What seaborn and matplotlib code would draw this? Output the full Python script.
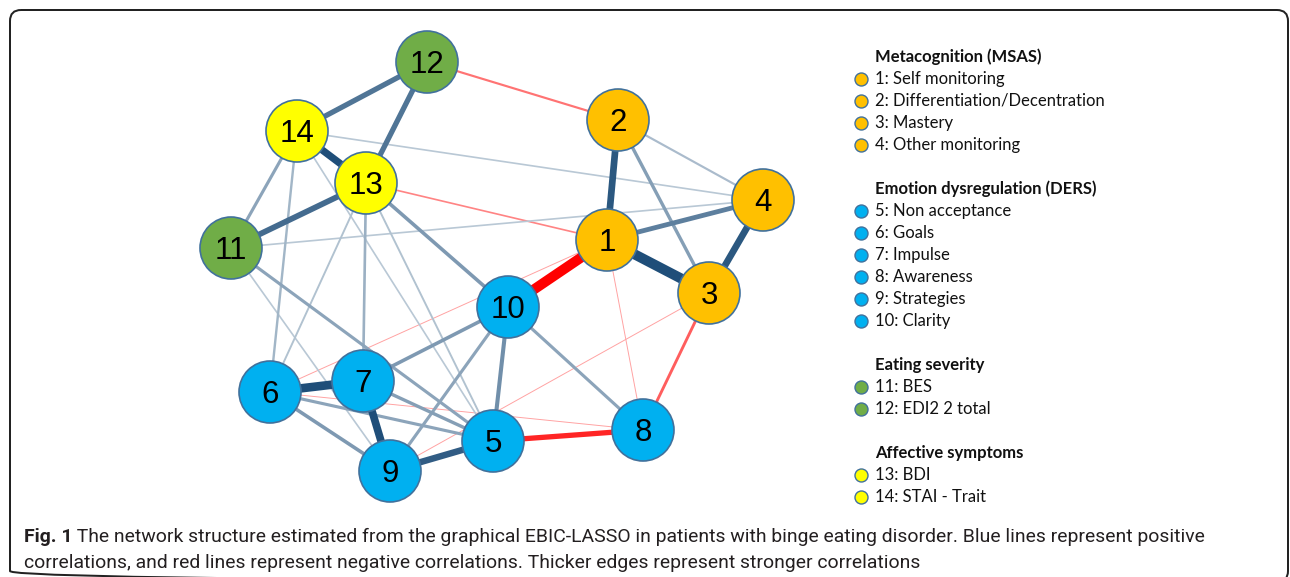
import numpy as np
import pandas as pd
import matplotlib
matplotlib.use("Agg")
import matplotlib.pyplot as plt
from matplotlib.patches import FancyBboxPatch
import seaborn as sns

# node layout (qgraph-style layout, picture units) and grouping
node_ids = list(range(1, 15))
node_x = [607, 618, 709, 763, 493, 270, 363, 643, 390, 508, 231, 427, 366, 297]
node_y = [240, 120, 293, 200, 441, 392, 381, 430, 471, 307, 248, 62, 183, 131]
node_group = [0, 0, 0, 0, 1, 1, 1, 1, 1, 1, 2, 2, 3, 3]

group_titles = ["Metacognition (MSAS)", "Emotion dysregulation (DERS)",
                "Eating severity", "Affective symptoms"]
node_labels = ["Self monitoring", "Differentiation/Decentration", "Mastery",
               "Other monitoring", "Non acceptance", "Goals", "Impulse",
               "Awareness", "Strategies", "Clarity", "BES", "EDI2 2 total",
               "BDI", "STAI - Trait"]

# edges (partial correlations)
edge_from = [1, 1, 6, 7, 13, 1, 3, 5, 12, 12, 11, 1, 5, 5, 7, 10, 6, 9, 8,
             5, 5, 5, 11, 7, 2, 2, 6, 3, 2, 1, 5, 6, 4, 4, 5, 9, 1, 1, 3, 6]
edge_to = [3, 10, 7, 9, 14, 2, 4, 9, 14, 13, 13, 4, 8, 10, 10, 13, 9, 10, 10,
           6, 7, 11, 14, 13, 3, 4, 14, 8, 12, 13, 13, 13, 14, 11, 14, 11, 8,
           6, 9, 8]
edge_w = [0.42, -0.42, 0.36, 0.32, 0.30, 0.28, 0.28, 0.27, 0.22, 0.22, 0.24,
          0.20, -0.22, 0.17, 0.15, 0.15, 0.15, 0.13, 0.13, 0.13, 0.14, 0.13,
          0.13, 0.11, 0.14, 0.09, 0.10, -0.12, -0.09, -0.07, 0.08, 0.08, 0.07,
          0.07, 0.07, 0.07, -0.04, -0.04, -0.04, -0.04]

caption_bold = "Fig. 1"
caption_line1 = (" The network structure estimated from the graphical EBIC-LASSO in "
                 "patients with binge eating disorder. Blue lines represent positive")
caption_line2 = ("correlations, and red lines represent negative correlations. "
                 "Thicker edges represent stronger correlations")

group_colors = ["#FFC000", "#00B0F0", "#70AD47", "#FFFF00"]
node_edge = "#41719C"
pos_dark = np.array([31, 78, 121]) / 255
neg_dark = np.array([255, 0, 0]) / 255

sns.set_theme(style="white")
plt.rcParams["font.family"] = ["Liberation Sans", "DejaVu Sans"]

W, H, DPI = 1290, 577, 100
PT = 72 / DPI  # points per pixel
fig = plt.figure(figsize=(W / DPI, H / DPI), dpi=DPI)
ax = fig.add_axes([0, 0, 1, 1])
ax.set_xlim(0, W)
ax.set_ylim(H, 0)
ax.axis("off")

# outer frame (bottom edge just below the picture)
ax.add_patch(FancyBboxPatch((10, 10), 1278, 572,
                            boxstyle="round,pad=0,rounding_size=11",
                            fill=False, ec="#222222", lw=2 * PT, zorder=0))

# edges, weakest first
nodes = pd.DataFrame({"id": node_ids, "x": node_x, "y": node_y,
                      "group": node_group})
pos = {i: (x, y) for i, x, y in zip(node_ids, node_x, node_y)}
edges = pd.DataFrame({"a": edge_from, "b": edge_to, "w": edge_w})
edges["absw"] = edges["w"].abs()
edges = edges.sort_values("absw")
for k, e in enumerate(edges.itertuples()):
    if e.w > 0:
        t = min(1.0, e.absw / 0.3) ** 0.8
        dark = pos_dark
    else:
        t = min(1.0, e.absw / 0.3) ** 0.5
        dark = neg_dark
    col = 1 - t * (1 - dark)
    (x1, y1), (x2, y2) = pos[e.a], pos[e.b]
    ax.plot([x1, x2], [y1, y2], color=col, lw=24 * e.absw * PT,
            solid_capstyle="butt", zorder=1 + k * 0.01)

# nodes
sns.scatterplot(data=nodes, x="x", y="y", hue="group",
                palette=group_colors, s=(62 * PT) ** 2, edgecolor=node_edge,
                linewidth=1.2, legend=False, ax=ax, zorder=3)
for i, x, y in zip(node_ids, node_x, node_y):
    ax.text(x, y + 11, str(i), ha="center", va="baseline", fontsize=22.5,
            color="black", zorder=4)

# legend on the right
leg_font = ["Lato", "DejaVu Sans"]
leg_x, leg_y0, row = 875, 57, 22
r = 0
for g, title in enumerate(group_titles):
    ax.text(leg_x, leg_y0 + r * row, title, fontsize=12, fontweight="bold",
            family=leg_font, va="center", color="#111111")
    r += 1
    for i in range(len(node_ids)):
        if node_group[i] != g:
            continue
        yy = leg_y0 + r * row
        ax.scatter([leg_x - 14], [yy], s=(13 * PT) ** 2,
                   color=group_colors[g], edgecolor=node_edge, lw=1, zorder=3)
        ax.text(leg_x, yy, f"{node_ids[i]}: {node_labels[i]}", fontsize=12,
                family=leg_font, va="center", color="#111111")
        r += 1
    r += 1

# caption: size fitted so the first line spans the same width as the original
cap_font = ["Roboto", "Liberation Sans", "DejaVu Sans"]
cap_col = "#231f20"
x0, x_end = 24, 1210
fs = 15
tb = ax.text(x0, 542, caption_bold, fontsize=fs, fontweight="bold",
             family=cap_font, va="baseline", color=cap_col)
t1 = ax.text(0, 542, caption_line1, fontsize=fs, family=cap_font,
             va="baseline", color=cap_col)
fig.canvas.draw()
total = tb.get_window_extent().width + t1.get_window_extent().width
fs = fs * (x_end - x0) / total
tb.set_fontsize(fs)
t1.set_fontsize(fs)
fig.canvas.draw()
t1.set_x(tb.get_window_extent().x1)
ax.text(x0, 568, caption_line2, fontsize=fs, family=cap_font,
        va="baseline", color=cap_col)

fig.savefig("out.png", dpi=DPI)
